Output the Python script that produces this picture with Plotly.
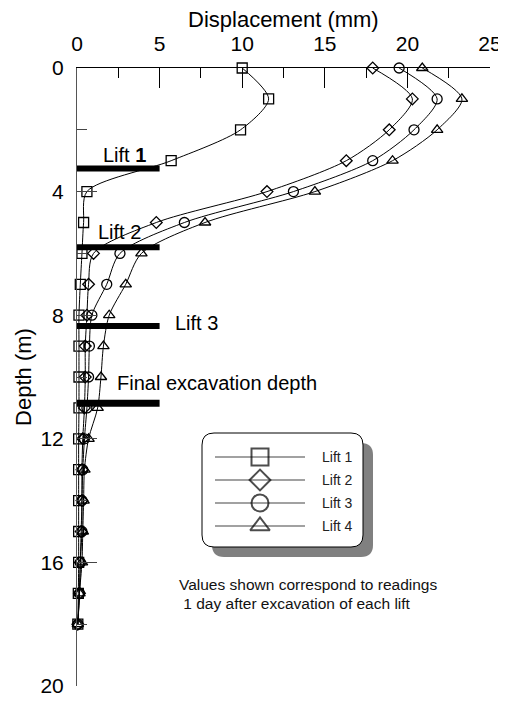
import plotly.graph_objects as go

# ---------------- data ----------------
depth = list(range(19))  # m
lift1 = [10.0, 11.6, 9.9, 5.7, 0.6, 0.4, 0.3, 0.2, 0.12, 0.12, 0.12, 0.12, 0.1, 0.1, 0.1, 0.1, 0.1, 0.08, 0.05]
lift2 = [17.9, 20.3, 18.9, 16.3, 11.5, 4.8, 1.0, 0.7, 0.6, 0.5, 0.5, 0.45, 0.35, 0.3, 0.3, 0.25, 0.2, 0.15, 0.05]
lift3 = [19.5, 21.8, 20.4, 17.9, 13.1, 6.5, 2.6, 1.8, 0.9, 0.75, 0.7, 0.6, 0.45, 0.35, 0.3, 0.3, 0.2, 0.15, 0.05]
lift4 = [20.9, 23.3, 21.8, 19.1, 14.4, 7.75, 3.9, 2.95, 1.95, 1.6, 1.45, 1.25, 0.7, 0.45, 0.4, 0.35, 0.3, 0.15, 0.05]
series = [lift1, lift2, lift3, lift4]
series_names = ["Lift 1", "Lift 2", "Lift 3", "Lift 4"]
symbols = ["square-open", "diamond-open", "circle-open", "triangle-up-open"]
marker_sizes = [10, 9, 10, 10]

lift_depths = [3.25, 5.8, 8.35, 10.85]          # excavation level of each lift (m)
bar_extent = [0, 5]                              # displacement span of the level bars
lift_labels = ["Lift <b>1</b>", "Lift 2", "Lift 3", "Final excavation depth"]
label_x = [1.45, 1.15, 5.8, 2.3]
label_y = [2.8, 5.3, 8.24, 10.18]

x_ticks = [0, 5, 10, 15, 20, 25]
y_ticks = [0, 4, 8, 12, 16, 20]

x_title = "Displacement (mm)"
y_title = "Depth (m)"
note_lines = ["Values shown correspond to readings", " 1 day after excavation of each lift"]

FONT = "Liberation Sans, Arial, Helvetica, sans-serif"

# the page body adds an 8 px offset; the figure is sized so the plot area
# lands at page pixels x 77..490, y 68..686
PAGE_OFF = 8
PX0, PX1, PY0, PY1 = 77, 490, 68, 686

fig = go.Figure()

# displacement profiles
for vals, name, sym, ms in zip(series, series_names, symbols, marker_sizes):
    fig.add_trace(go.Scatter(
        x=vals, y=depth, mode="lines+markers", name=name,
        line=dict(color="black", width=1, shape="spline", smoothing=0.8),
        marker=dict(symbol=sym, size=ms, color="black", line=dict(width=1.3, color="black")),
        cliponaxis=False, showlegend=False))

# excavation level bars
for i, d in enumerate(lift_depths):
    fig.add_trace(go.Scatter(
        x=bar_extent, y=[d, d], mode="lines",
        line=dict(color="black", width=7 if i == len(lift_depths) - 1 else 6),
        showlegend=False, hoverinfo="skip"))

# level labels
for t, x, y in zip(lift_labels, label_x, label_y):
    fig.add_annotation(x=x, y=y, xref="x", yref="y", text=t, showarrow=False,
                       xanchor="left", yanchor="middle",
                       font=dict(family=FONT, size=20, color="black"))

# ---------------- custom legend (pixel overlay axes) ----------------
def rrect(x0, y0, x1, y1, r):
    return (f"M{x0+r},{y0} L{x1-r},{y0} Q{x1},{y0} {x1},{y0+r} L{x1},{y1-r} "
            f"Q{x1},{y1} {x1-r},{y1} L{x0+r},{y1} Q{x0},{y1} {x0},{y1-r} "
            f"L{x0},{y0+r} Q{x0},{y0} {x0+r},{y0} Z")

bx0, by0, bx1, by1 = 202, 433, 363, 547
sh = 10
fig.add_shape(type="path", path=rrect(bx0 + sh, by0 + sh, bx1 + sh, by1 + sh, 12),
              xref="x2", yref="y2", fillcolor="#808080", line=dict(width=0), layer="below")
fig.add_shape(type="path", path=rrect(bx0, by0, bx1, by1, 12),
              xref="x2", yref="y2", fillcolor="white", line=dict(color="black", width=1), layer="below")

row_y = [457, 480, 503, 526]
for ry in row_y:
    fig.add_shape(type="line", x0=215, x1=305, y0=ry, y1=ry, xref="x2", yref="y2",
                  line=dict(color="#444", width=1.2), layer="below")
fig.add_trace(go.Scatter(
    x=[260] * 4, y=row_y, xaxis="x2", yaxis="y2", mode="markers",
    marker=dict(symbol=symbols, size=[17, 16, 17, 17], color="black",
                line=dict(width=2, color="black")),
    showlegend=False, hoverinfo="skip", cliponaxis=False))
for name, ry in zip(series_names, row_y):
    fig.add_annotation(x=320, y=ry, xref="x2", yref="y2", text=name, showarrow=False,
                       xanchor="left", yanchor="middle",
                       font=dict(family=FONT, size=14, color="#222"))

# note
for t, nx, ny in zip(note_lines, [177, 177], [584, 603]):
    fig.add_annotation(x=nx, y=ny, xref="x2", yref="y2", text=t.replace(" ", "&nbsp;", 1) if t.startswith(" ") else t,
                       showarrow=False, xanchor="left", yanchor="middle",
                       font=dict(family=FONT, size=15.5, color="#111"))

# top axis title (paper coords, placed above the tick labels)
fig.add_annotation(x=0.5, y=(PY1 - 19) / (PY1 - PY0), xref="paper", yref="paper",
                   text=x_title, showarrow=False, xanchor="center", yanchor="middle",
                   borderpad=0, font=dict(family=FONT, size=22, color="black"))

fig.update_layout(
    width=506 - PAGE_OFF, height=703 - PAGE_OFF,
    margin=dict(l=PX0 - PAGE_OFF, r=16, t=PY0 - PAGE_OFF, b=17, autoexpand=False),
    paper_bgcolor="white", plot_bgcolor="white",
    font=dict(family=FONT, color="black"),
    xaxis=dict(
        side="top", range=[0, 25], tickvals=x_ticks, ticks="inside", ticklen=20,
        tickcolor="black", tickwidth=1, showline=True, linecolor="black", linewidth=1,
        showgrid=False, zeroline=False, tickfont=dict(size=21, family=FONT),
        ticklabelstandoff=8, automargin=False,
        minor=dict(dtick=2.5, tick0=0, ticks="inside", ticklen=10, tickcolor="black", showgrid=False),
    ),
    yaxis=dict(
        range=[20, 0], tickvals=y_ticks, ticks="inside", ticklen=20,
        tickcolor="#444", tickwidth=1, showline=True, linecolor="#555", linewidth=1,
        showgrid=False, zeroline=False, tickfont=dict(size=21, family=FONT),
        ticklabelstandoff=8, automargin=False,
        minor=dict(dtick=2, tick0=0, ticks="inside", ticklen=10, tickcolor="#444", showgrid=False),
        title=dict(text=y_title, font=dict(size=22, family=FONT), standoff=2),
    ),
    xaxis2=dict(overlaying="x", range=[PX0, PX1], visible=False, fixedrange=True, automargin=False),
    yaxis2=dict(overlaying="y", range=[PY1, PY0], visible=False, fixedrange=True, automargin=False),
)

fig.write_html("out.html")
